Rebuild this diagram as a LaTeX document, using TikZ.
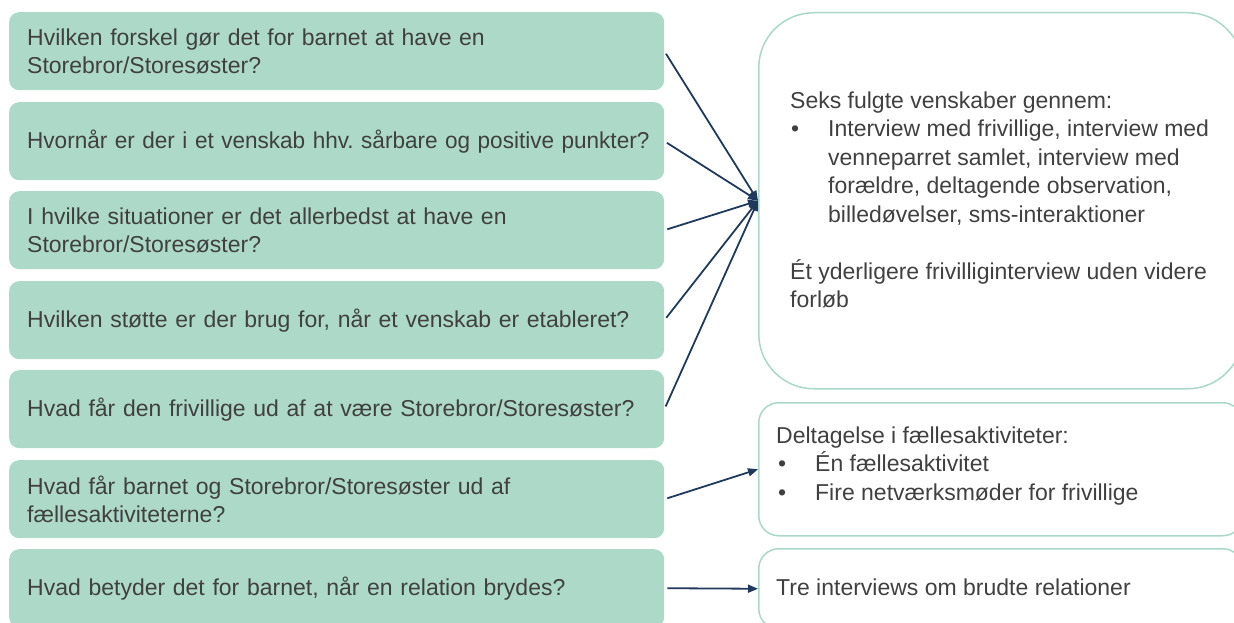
\documentclass[tikz,border=0pt]{standalone}
\usepackage{fontspec}
\setmainfont{Liberation Sans}
\usetikzlibrary{arrows.meta}
\definecolor{qfill}{RGB}{173,217,200}
\definecolor{bline}{RGB}{170,216,200}
\definecolor{navy}{RGB}{31,58,92}
\definecolor{txt}{RGB}{64,64,64}
\frenchspacing
\hyphenpenalty=10000
\exhyphenpenalty=10000
\begin{document}
\begin{tikzpicture}[x=1pt,y=-1pt,
  font=\fontsize{23}{28.5}\selectfont\frenchspacing,
  qbox/.style={draw=none, fill=qfill, rounded corners=10pt, minimum width=655pt,
    minimum height=78pt, inner xsep=18pt, inner ysep=0pt, text width=619pt,
    align=left, anchor=north west, text=txt},
  rbox/.style={draw=bline, line width=1.5pt, anchor=north west, inner sep=0pt,
    minimum width=484pt},
  ptext/.style={anchor=west, align=left, inner sep=0pt, text=txt},
  conn/.style={draw=navy, line width=1.8pt, -{Triangle[length=10pt,width=8pt]}, shorten <=3pt}]
\useasboundingbox (0,0) rectangle (1234,623);
\clip (0,0) rectangle (1234,623);
% left question boxes
\node[qbox] (q1) at (9,12) {Hvilken forskel gør det for barnet at have en\\Storebror/Storesøster?};
\node[qbox] (q2) at (9,102) {\scalebox{0.98}[1]{Hvornår er der i et venskab hhv. sårbare og positive punkter?}};
\node[qbox] (q3) at (9,191) {I hvilke situationer er det allerbedst at have en\\Storebror/Storesøster?};
\node[qbox] (q4) at (9,281) {Hvilken støtte er der brug for, når et venskab er etableret?};
\node[qbox] (q5) at (9,370) {Hvad får den frivillige ud af at være Storebror/Storesøster?};
\node[qbox] (q6) at (9,460) {Hvad får barnet og Storebror/Storesøster ud af\\fællesaktiviteterne?};
\node[qbox] (q7) at (9,549) {Hvad betyder det for barnet, når en relation brydes?};
% right boxes
\node[rbox, rounded corners=55pt, minimum height=376pt] (big) at (758,12) {};
\node[rbox, rounded corners=20pt, minimum height=133pt] (del) at (758,402) {};
\node[rbox, rounded corners=20pt, minimum height=80pt] (tre) at (758,548) {};
% right texts
\node[ptext] (bigtext) at (790,200) {Seks fulgte venskaber gennem:\\
\makebox[38pt][l]{\hspace{1pt}•}Interview med frivillige, interview med\\
\hspace*{38pt}venneparret samlet, interview med\\
\hspace*{38pt}forældre, deltagende observation,\\
\hspace*{38pt}billedøvelser, sms-interaktioner\\[28.5pt]
Ét yderligere frivilliginterview uden videre\\
forløb};
\node[ptext] (deltext) at (776,466) {Deltagelse i fællesaktiviteter:\\
\makebox[39pt][l]{\hspace{2pt}•}Én fællesaktivitet\\
\makebox[39pt][l]{\hspace{2pt}•}Fire netværksmøder for frivillige};
\node[ptext] (tretext) at (776,587) {Tre interviews om brudte relationer};
% connectors
\draw[conn] (q1.east) -- (big.west);
\draw[conn] (q2.east) -- (big.west);
\draw[conn] (q3.east) -- (big.west);
\draw[conn] (q4.east) -- (big.west);
\draw[conn] (q5.east) -- (big.west);
\draw[conn] (q6.east) -- (del.west);
\draw[conn] (q7.east) -- (tre.west);
\end{tikzpicture}
\end{document}
